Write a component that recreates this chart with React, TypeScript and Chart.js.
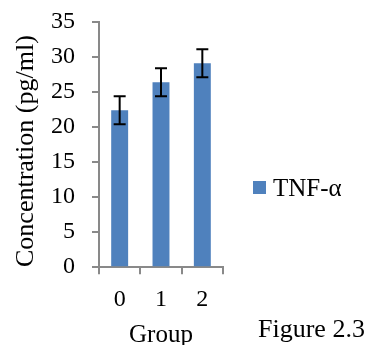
import { useEffect, useRef } from "react";
import { Chart, registerables } from "chart.js";

Chart.register(...registerables);

const categories = ["0", "1", "2"];
const tnfValues = [22.4, 26.4, 29.1];
const tnfErrors = [2.0, 2.0, 2.0];
const seriesLabel = "TNF-α";
const xTitle = "Group";
const yTitle = "Concentration (pg/ml)  ";
const figureCaption = "Figure 2.3";
const yMin = 0;
const yMax = 35;
const yStep = 5;

const FONT = "'Liberation Serif', 'Times New Roman', serif";
const BAR_COLOR = "#4f81bd";
const AXIS_COLOR = "#898989";

const errorBarPlugin = {
  id: "errorBars",
  afterDatasetsDraw(chart: any) {
    const ctx = chart.ctx;
    const meta = chart.getDatasetMeta(0);
    const yScale = chart.scales.y;
    ctx.save();
    ctx.strokeStyle = "#000";
    ctx.lineWidth = 2;
    meta.data.forEach((bar: any, i: number) => {
      const x = bar.x;
      const yTop = yScale.getPixelForValue(tnfValues[i] + tnfErrors[i]);
      const yBot = yScale.getPixelForValue(tnfValues[i] - tnfErrors[i]);
      const cap = 6;
      ctx.beginPath();
      ctx.moveTo(x, yTop);
      ctx.lineTo(x, yBot);
      ctx.moveTo(x - cap, yTop);
      ctx.lineTo(x + cap, yTop);
      ctx.moveTo(x - cap, yBot);
      ctx.lineTo(x + cap, yBot);
      ctx.stroke();
    });
    ctx.restore();
  },
};

const sideTextPlugin = {
  id: "sideText",
  afterDraw(chart: any) {
    const ctx = chart.ctx;
    const ds = chart.data.datasets[0];
    ctx.save();
    ctx.fillStyle = ds.backgroundColor;
    ctx.fillRect(253, 181, 13, 13);
    ctx.fillStyle = "#000";
    ctx.font = `25px ${FONT}`;
    ctx.textBaseline = "middle";
    ctx.textAlign = "left";
    ctx.fillText(ds.label, 273, 189);
    ctx.textBaseline = "alphabetic";
    ctx.font = `26px ${FONT}`;
    ctx.fillText(figureCaption, 258, 337);
    ctx.restore();
  },
};

export default function App() {
  const ref = useRef<HTMLCanvasElement | null>(null);
  useEffect(() => {
    if (!ref.current) return;
    const chart = new Chart(ref.current, {
      type: "bar",
      data: {
        labels: categories,
        datasets: [
          {
            label: seriesLabel,
            data: tnfValues,
            backgroundColor: BAR_COLOR,
            barPercentage: 0.41,
            categoryPercentage: 1,
          },
        ],
      },
      options: {
        responsive: false,
        animation: false,
        devicePixelRatio: 1,
        layout: { padding: { left: 0, right: 147, top: 22, bottom: 0 } },
        plugins: {
          legend: { display: false },
          tooltip: { enabled: false },
        },
        scales: {
          x: {
            offset: true,
            grid: {
              offset: true,
              drawOnChartArea: false,
              drawTicks: true,
              tickLength: 7,
              color: AXIS_COLOR,
              lineWidth: 2,
            },
            border: { display: true, color: AXIS_COLOR, width: 2 },
            ticks: { font: { family: FONT, size: 24 }, color: "#000", padding: 11 },
            title: {
              display: true,
              text: xTitle,
              color: "#000",
              font: { family: FONT, size: 25, lineHeight: 1 },
              padding: { top: -2, bottom: -3 },
            },
          },
          y: {
            min: yMin,
            max: yMax,
            afterFit(scale: any) {
              scale.paddingTop = 10;
              scale.paddingBottom = 10;
            },
            grid: {
              drawOnChartArea: false,
              drawTicks: true,
              tickLength: 7,
              color: AXIS_COLOR,
              lineWidth: 2,
            },
            border: { display: true, color: AXIS_COLOR, width: 2 },
            ticks: {
              stepSize: yStep,
              font: { family: FONT, size: 24 },
              color: "#000",
              padding: 17,
            },
            title: {
              display: true,
              text: yTitle,
              color: "#000",
              font: { family: FONT, size: 26, lineHeight: 1 },
              padding: { top: 13, bottom: -5 },
            },
          },
        },
      },
      plugins: [errorBarPlugin, sideTextPlugin],
    });
    return () => chart.destroy();
  }, []);
  return (
    <div style={{ position: "absolute", left: 0, top: 0, width: 370, height: 345, background: "#fff" }}>
      <canvas ref={ref} width={370} height={345} style={{ display: "block" }} />
    </div>
  );
}
